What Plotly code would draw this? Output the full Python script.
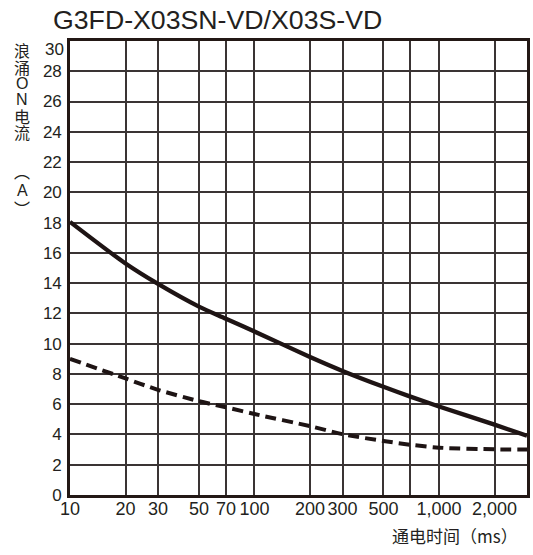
import plotly.graph_objects as go

# ---- data ----
time_ms = [10, 20, 30, 50, 70, 100, 200, 300, 500, 700, 1000, 2000, 3000]
surge_solid = [18.05, 15.3, 13.95, 12.45, 11.65, 10.8, 9.12, 8.2, 7.15, 6.5, 5.85, 4.65, 3.92]
surge_dashed = [9.0, 7.7, 6.95, 6.2, 5.8, 5.35, 4.55, 4.02, 3.57, 3.32, 3.13, 3.02, 3.0]

x_tickvals = [10, 20, 30, 50, 70, 100, 200, 300, 500, 700, 1000, 2000]
x_ticktext = ["10", "20", "30", "50", "70", "100", "200", "300", "500", "", "1,000", "2,000"]
y_tickvals = list(range(0, 30, 2))
y_ticktext = [str(v) for v in y_tickvals]

title_text = "G3FD-X03SN-VD/X03S-VD"
y_title_chars = ["浪", "涌", "O", "N", "电", "流", "︵", "A", "︶"]
x_title_text = "通电时间（ms）"

# ---- layout geometry (pixels) ----
W, H = 533, 555
L, R, T, B = 70, 6, 41, 60
PW, PH = W - L - R, H - T - B

def px(xp):
    return (xp - L) / PW

def py(yp):
    return (H - B - yp) / PH

INK = "#231f20"
LAT = "Liberation Sans, Arial, Helvetica, sans-serif"
CJK = "Noto Sans CJK SC, Liberation Sans, sans-serif"

fig = go.Figure()
fig.add_trace(go.Scatter(
    x=time_ms, y=surge_solid, mode="lines",
    line=dict(color="#1e1414", width=4.3, shape="spline", smoothing=0.8),
    showlegend=False, hoverinfo="skip"))
fig.add_trace(go.Scatter(
    x=time_ms, y=surge_dashed, mode="lines",
    line=dict(color="#1e1414", width=4, dash="11px,6px", shape="spline", smoothing=0.8),
    showlegend=False, hoverinfo="skip"))

fig.update_xaxes(
    type="log", range=[1, 3.4771], tickvals=x_tickvals, ticktext=x_ticktext,
    showgrid=True, gridcolor="#3a3434", gridwidth=1.6,
    showline=True, linecolor="#231815", linewidth=2.6, mirror=True,
    ticks="", tickfont=dict(family=LAT, size=18, color=INK),
    ticklabelstandoff=-4,
    zeroline=False, fixedrange=True)
fig.update_yaxes(
    range=[0, 30], tickvals=y_tickvals, ticktext=y_ticktext,
    showgrid=True, gridcolor="#3a3434", gridwidth=1.6,
    showline=True, linecolor="#231815", linewidth=2.6, mirror=True,
    ticks="", tickfont=dict(family=LAT, size=17, color=INK),
    ticklabelstandoff=2,
    zeroline=False, fixedrange=True)

annotations = []
# title
annotations.append(dict(text=title_text, x=px(51), y=py(20), xref="paper", yref="paper",
                        xanchor="left", yanchor="middle", showarrow=False,
                        font=dict(family=LAT, size=26.7, color=INK)))
# top y tick label "30" (sits just below the top border)
annotations.append(dict(text="30", x=px(66), y=py(49), xref="paper", yref="paper",
                        xanchor="right", yanchor="middle", showarrow=False,
                        font=dict(family=LAT, size=17, color=INK)))
# vertical y-axis title
y_centers = [50, 67, 83, 99, 116, 132, 171, 190, 208]
for ch, yc in zip(y_title_chars, y_centers):
    fam = LAT if ch in ("O", "N", "A") else CJK
    annotations.append(dict(text=ch, x=px(22), y=py(yc), xref="paper", yref="paper",
                            xanchor="center", yanchor="middle", showarrow=False,
                            font=dict(family=fam, size=16, color=INK)))
# x-axis title
annotations.append(dict(text=x_title_text, x=px(390), y=py(535), xref="paper", yref="paper",
                        xanchor="left", yanchor="middle", showarrow=False,
                        font=dict(family=CJK, size=17, color=INK)))

fig.update_layout(
    width=W, height=H, margin=dict(l=L, r=R, t=T, b=B, autoexpand=False),
    paper_bgcolor="white", plot_bgcolor="white",
    annotations=annotations, showlegend=False)

fig.write_html("out.html", config={"displayModeBar": False},
               post_script="document.body.style.margin='0';document.body.style.padding='0';")
